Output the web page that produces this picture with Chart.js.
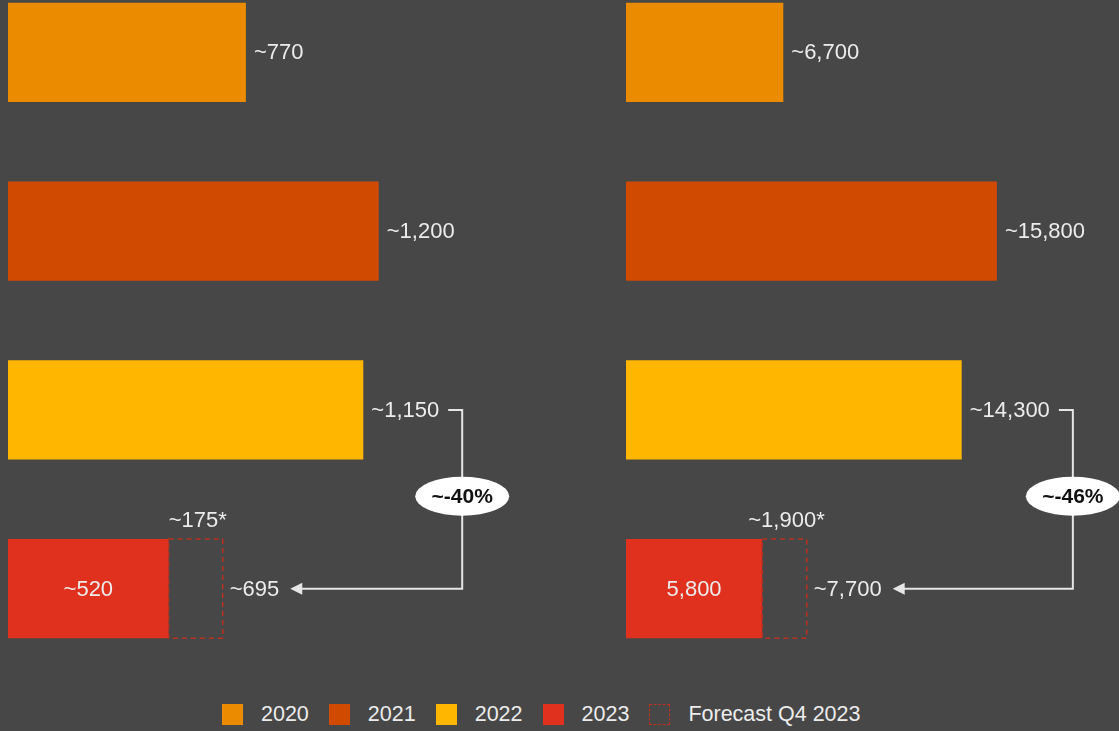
<!DOCTYPE html>
<html lang="en">
<head>
<meta charset="UTF-8">
<title>Yearly volumes with Q4 2023 forecast</title>
<style>
    html, body { margin: 0; padding: 0; background: #474747; width: 1119px; height: 731px; overflow: hidden; font-family: "Liberation Sans", Arial, sans-serif; }
    .panel { position: absolute; top: -37px; height: 715px; }
    #leftPanel { left: 8px; width: 600px; }
    #rightPanel { left: 626px; width: 493px; }
    #legend { position: absolute; left: 222px; top: 702px; height: 24px; display: flex; align-items: center; color: #ececec; font-size: 21.5px; }
    .item { display: flex; align-items: center; margin-right: 20px; }
    .swatch { width: 21px; height: 21px; margin-right: 18px; box-sizing: border-box; }
    .dashed { border: 1.5px dashed #b8321f; }
</style>
<script src="https://cdn.jsdelivr.net/npm/chart.js"></script>
</head>
<body>
<div class="panel" id="leftPanel"><canvas id="leftChart"></canvas></div>
<div class="panel" id="rightPanel"><canvas id="rightChart"></canvas></div>
<div id="legend"></div>

<script>
    const years = ['2020', '2021', '2022', '2023'];
    const yearColors = ['#eb8c00', '#d04a02', '#ffb600', '#e0301e'];
    const forecastName = 'Forecast Q4 2023';

    const leftValues = [770, 1200, 1150, 520];
    const leftForecast = [null, null, null, 175];
    const leftLabels = ['~770', '~1,200', '~1,150', '~520'];
    const leftExtra = { forecast: '~175*', total: '~695', change: '~-40%' };

    const rightValues = [6700, 15800, 14300, 5800];
    const rightForecast = [null, null, null, 1900];
    const rightLabels = ['~6,700', '~15,800', '~14,300', '5,800'];
    const rightExtra = { forecast: '~1,900*', total: '~7,700', change: '~-46%' };

    const textColor = '#ececec';
    const lineColor = '#e6e6e6';
    const font = '22px "Liberation Sans", Arial, sans-serif';

    function annotate(labels, extra) {
        return {
            id: 'annotate',
            afterDatasetsDraw(chart) {
                const ctx = chart.ctx;
                const bars = chart.getDatasetMeta(0).data;
                const fc = chart.getDatasetMeta(1).data;
                const fcData = chart.data.datasets[1].data;
                ctx.save();
                ctx.font = font;
                ctx.fillStyle = textColor;
                ctx.textBaseline = 'middle';
                let ends = [];
                bars.forEach((bar, i) => {
                    if (fcData[i] == null) {
                        ctx.textAlign = 'left';
                        ctx.fillText(labels[i], bar.x + 8, bar.y + 1);
                        ends[i] = bar.x + 8 + ctx.measureText(labels[i]).width;
                    } else {
                        ctx.textAlign = 'center';
                        ctx.fillText(labels[i], (bar.base + bar.x) / 2, bar.y + 1);
                        const f = fc[i];
                        const top = f.y - f.height / 2, bot = f.y + f.height / 2;
                        ctx.save();
                        ctx.strokeStyle = '#b8321f';
                        ctx.lineWidth = 1.5;
                        ctx.setLineDash([5, 4]);
                        ctx.strokeRect(f.base, top, f.x - f.base, bot - top);
                        ctx.restore();
                        ctx.textBaseline = 'alphabetic';
                        ctx.fillText(extra.forecast, (f.base + f.x) / 2 + 2, top - 12);
                        ctx.textBaseline = 'middle';
                        ctx.textAlign = 'left';
                        ctx.fillText(extra.total, f.x + 7, f.y + 1);
                        ends[i] = f.x + 7 + ctx.measureText(extra.total).width;
                    }
                });

                // connector from 2022 to 2023 total
                const from = bars[2], to = bars[3];
                const vx = ends[2] + 23;
                const y1 = from.y, y2 = to.y;
                ctx.strokeStyle = lineColor;
                ctx.lineWidth = 2;
                ctx.beginPath();
                ctx.moveTo(ends[2] + 9, y1);
                ctx.lineTo(vx, y1);
                ctx.lineTo(vx, y2);
                ctx.lineTo(ends[3] + 22, y2);
                ctx.stroke();
                ctx.fillStyle = lineColor;
                ctx.beginPath();
                ctx.moveTo(ends[3] + 11, y2);
                ctx.lineTo(ends[3] + 23, y2 - 6);
                ctx.lineTo(ends[3] + 23, y2 + 6);
                ctx.closePath();
                ctx.fill();

                // change bubble
                const cy = (y1 + y2) / 2 - 3;
                ctx.fillStyle = '#ffffff';
                ctx.beginPath();
                ctx.ellipse(vx, cy, 47, 19.5, 0, 0, Math.PI * 2);
                ctx.fill();
                ctx.fillStyle = '#111111';
                ctx.font = 'bold 21px "Liberation Sans", Arial, sans-serif';
                ctx.textAlign = 'center';
                ctx.fillText(extra.change, vx, cy + 1);
                ctx.restore();
            }
        };
    }

    function makeChart(id, values, forecast, max, labels, extra) {
        return new Chart(document.getElementById(id), {
            type: 'bar',
            data: {
                labels: years,
                datasets: [
                    { label: 'Actual', data: values, backgroundColor: yearColors, borderWidth: 0 },
                    { label: forecastName, data: forecast, backgroundColor: 'rgba(0,0,0,0)', borderWidth: 0 }
                ]
            },
            options: {
                indexAxis: 'y',
                responsive: true,
                maintainAspectRatio: false,
                animation: false,
                layout: { padding: 0 },
                datasets: { bar: { categoryPercentage: 1, barPercentage: 0.554 } },
                scales: {
                    x: { display: false, stacked: true, min: 0, max: max },
                    y: { display: false, stacked: true }
                },
                plugins: { legend: { display: false }, tooltip: { enabled: false } }
            },
            plugins: [annotate(labels, extra)]
        });
    }

    makeChart('leftChart', leftValues, leftForecast, 1942, leftLabels, leftExtra);
    makeChart('rightChart', rightValues, rightForecast, 21000, rightLabels, rightExtra);

    const legend = document.getElementById('legend');
    years.forEach((y, i) => {
        legend.innerHTML += `<div class="item"><div class="swatch" style="background:${yearColors[i]}"></div>${y}</div>`;
    });
    legend.innerHTML += `<div class="item"><div class="swatch dashed"></div>${forecastName}</div>`;
</script>
</body>
</html>
